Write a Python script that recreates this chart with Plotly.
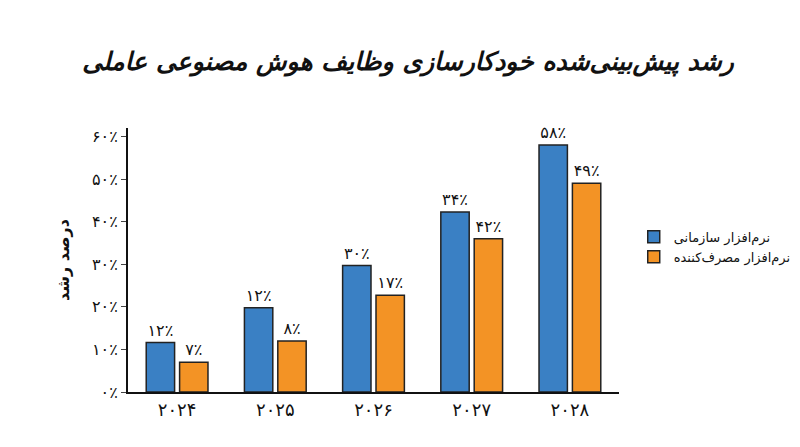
import plotly.graph_objects as go

years = ['۲۰۲۴', '۲۰۲۵', '۲۰۲۶', '۲۰۲۷', '۲۰۲۸']
enterprise = [11.6, 19.8, 29.7, 42.3, 58.0]
consumer = [7.0, 12.0, 22.7, 36.0, 49.0]
enterprise_labels = ['۱۲٪', '۱۲٪', '۳۰٪', '۳۴٪', '۵۸٪']
consumer_labels = ['۷٪', '۸٪', '۱۷٪', '۴۲٪', '۴۹٪']
tick_vals = [0, 10, 20, 30, 40, 50, 60]
tick_text = ['۰٪', '۱۰٪', '۲۰٪', '۳۰٪', '۴۰٪', '۵۰٪', '۶۰٪']

font = 'DejaVu Sans'
fig = go.Figure()
fig.add_trace(go.Bar(x=years, y=enterprise, name='نرم‌افزار سازمانی', text=enterprise_labels,
                     textposition='outside', cliponaxis=False, textfont=dict(size=16),
                     marker=dict(color='#3a80c4', line=dict(color='#222', width=1.5))))
fig.add_trace(go.Bar(x=years, y=consumer, name='نرم‌افزار مصرف‌کننده', text=consumer_labels,
                     textposition='outside', cliponaxis=False, textfont=dict(size=16),
                     marker=dict(color='#f39325', line=dict(color='#222', width=1.5))))

fig.update_layout(
    width=800, height=447,
    paper_bgcolor='white', plot_bgcolor='white',
    font=dict(family=font, color='#111', size=14),
    title=dict(text='<b><i>رشد پیش‌بینی‌شده خودکارسازی وظایف هوش مصنوعی عاملی</i></b>',
               x=0.5, y=0.9, xanchor='center', font=dict(size=25)),
    margin=dict(l=120, r=185, t=120, b=63),
    barmode='group', bargap=0.32, bargroupgap=0.15,
    legend=dict(x=1.03, y=0.55, xanchor='left', yanchor='middle', font=dict(size=13),
                traceorder='normal', tracegroupgap=8),
    showlegend=True,
)
fig.update_xaxes(showline=True, linecolor='#111', linewidth=2, ticks='', tickfont=dict(size=18))
fig.update_yaxes(range=[0, 62], tickvals=tick_vals, ticktext=tick_text, showgrid=False,
                 showline=True, linecolor='#111', linewidth=2, ticks='outside', ticklen=5,
                 tickfont=dict(size=16),
                 title=dict(text='<b>درصد رشد</b>', font=dict(size=16), standoff=18))
fig.write_html('out.html')
